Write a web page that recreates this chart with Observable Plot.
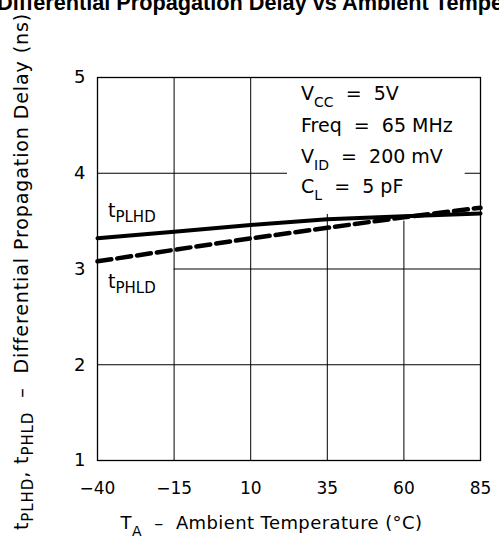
<!DOCTYPE html>
<html>
<head>
<meta charset="utf-8">
<script src="https://cdn.jsdelivr.net/npm/d3@7"></script>
<script src="https://cdn.jsdelivr.net/npm/@observablehq/plot@0.6"></script>
<style>
  html, body { margin: 0; padding: 0; background: #fff; overflow: hidden; }
  #wrap { position: relative; width: 499px; height: 548px; overflow: hidden; }
  #title { position: absolute; left: -3px; top: -8px; font: bold 21.7px "Liberation Sans", Arial, sans-serif; line-height: 21px; white-space: nowrap; color: #000; }
  #chart { position: absolute; left: 0; top: 0; }
</style>
</head>
<body>
<div id="wrap">
  <div id="chart"></div>
  <div id="title">Differential Propagation Delay vs Ambient Temperature</div>
</div>
<script>
// ---- data ----
const temps = [-40, -15, 10, 35, 60, 85];          // T_A (°C)
const tPLHD = [3.32, 3.39, 3.46, 3.52, 3.55, 3.58]; // ns, solid
const tPHLD = [3.08, 3.20, 3.32, 3.43, 3.54, 3.64]; // ns, dashed
const xTicks = [-40, -15, 10, 35, 60, 85];
const yTicks = [1, 2, 3, 4, 5];
// grid segments (partly hidden behind labels in the original)
const hGrid = [
  {y: 2, x1: -40, x2: 85},
  {y: 3, x1: -15, x2: 85},
  {y: 4, x1: -40, x2: 22},
  {y: 4, x1: 80, x2: 85}
];
const vGrid = [
  {x: -15, y1: 1, y2: 5},
  {x: 10, y1: 1, y2: 5},
  {x: 35, y1: 1, y2: 3.57},
  {x: 60, y1: 1, y2: 3.5}
];
const conditions = [
  [["V", 0], ["CC", 1], ["  =  5V", 0]],
  [["Freq  =  65 MHz", 0]],
  [["V", 0], ["ID", 1], ["  =  200 mV", 0]],
  [["C", 0], ["L", 1], ["  =  5 pF", 0]]
];
const condY = [4.76, 4.43, 4.10, 3.79];

const rowsL = temps.map((t, i) => ({t, v: tPLHD[i]}));
const rowsH = temps.map((t, i) => ({t, v: tPHLD[i]}));

const FONT = "DejaVu Sans";

const plot = Plot.plot({
  width: 499,
  height: 548,
  marginLeft: 97,
  marginRight: 19,
  marginTop: 77,
  marginBottom: 88,
  style: {fontFamily: FONT, background: "#fff", color: "#000"},
  x: {domain: [-40, 85]},
  y: {domain: [1, 5]},
  marks: [
    Plot.ruleY(hGrid, {y: "y", x1: "x1", x2: "x2", stroke: "#000", strokeWidth: 1}),
    Plot.ruleX(vGrid, {x: "x", y1: "y1", y2: "y2", stroke: "#000", strokeWidth: 1}),
    Plot.frame({stroke: "#000", strokeWidth: 1.3}),
    Plot.axisX({ticks: xTicks, tickSize: 0, tickPadding: 21, fontSize: 17, label: null, tickFormat: d => d < 0 ? "\u2212" + Math.abs(d) : String(d)}),
    Plot.axisY({ticks: yTicks, tickSize: 0, tickPadding: 12, fontSize: 18, label: null, tickFormat: d => String(d)}),
    Plot.line(rowsH, {x: "t", y: "v", stroke: "#000", strokeWidth: 4.5, strokeDasharray: "14,6"}),
    Plot.line(rowsL, {x: "t", y: "v", stroke: "#000", strokeWidth: 4})
  ]
});
document.getElementById("chart").appendChild(plot);

const xs = plot.scale("x"), ys = plot.scale("y");
const svg = d3.select(plot);

function addText(x, y, parts, opt = {}) {
  const size = opt.size || 18, sub = opt.sub || 14, shift = opt.shift || 5;
  const t = svg.append("text")
    .attr("x", x).attr("y", y)
    .attr("font-family", FONT)
    .attr("font-size", size)
    .attr("fill", "#000")
    .attr("text-anchor", opt.anchor || "start")
    .style("white-space", "pre")
    .attr("xml:space", "preserve");
  if (opt.spacing) t.attr("letter-spacing", opt.spacing);
  if (opt.rotate) t.attr("transform", `rotate(${opt.rotate},${x},${y})`);
  let level = 0;
  parts.forEach(([s, isSub]) => {
    const ts = t.append("tspan").text(s);
    const target = isSub ? 1 : 0;
    if (target !== level) ts.attr("dy", target ? shift : -shift);
    ts.attr("font-size", isSub ? sub : size);
    level = target;
  });
  return t;
}

// curve labels
addText(xs.apply(-36.4), ys.apply(3.54), [["t", 0], ["PLHD", 1]], {size: 19, sub: 15, shift: 5});
addText(xs.apply(-36.4), ys.apply(2.80), [["t", 0], ["PHLD", 1]], {size: 19, sub: 15, shift: 5});

// test conditions
conditions.forEach((parts, i) => {
  addText(xs.apply(26.6), ys.apply(condY[i]), parts, {size: 19, sub: 14, shift: 7});
});

// axis titles
addText(271.5, 529, [["T", 0], ["A", 1], ["  \u2013  Ambient Temperature (\u00B0C)", 0]], {size: 18, sub: 14, shift: 7, anchor: "middle", spacing: 0.4});
addText(28, 530, [["t", 0], ["PLHD", 1], [", t", 0], ["PHLD", 1], ["  \u2013  Differential Propagation Delay (ns)", 0]], {size: 19, sub: 15, shift: 5, rotate: -90, spacing: 0.9});
</script>
</body>
</html>
